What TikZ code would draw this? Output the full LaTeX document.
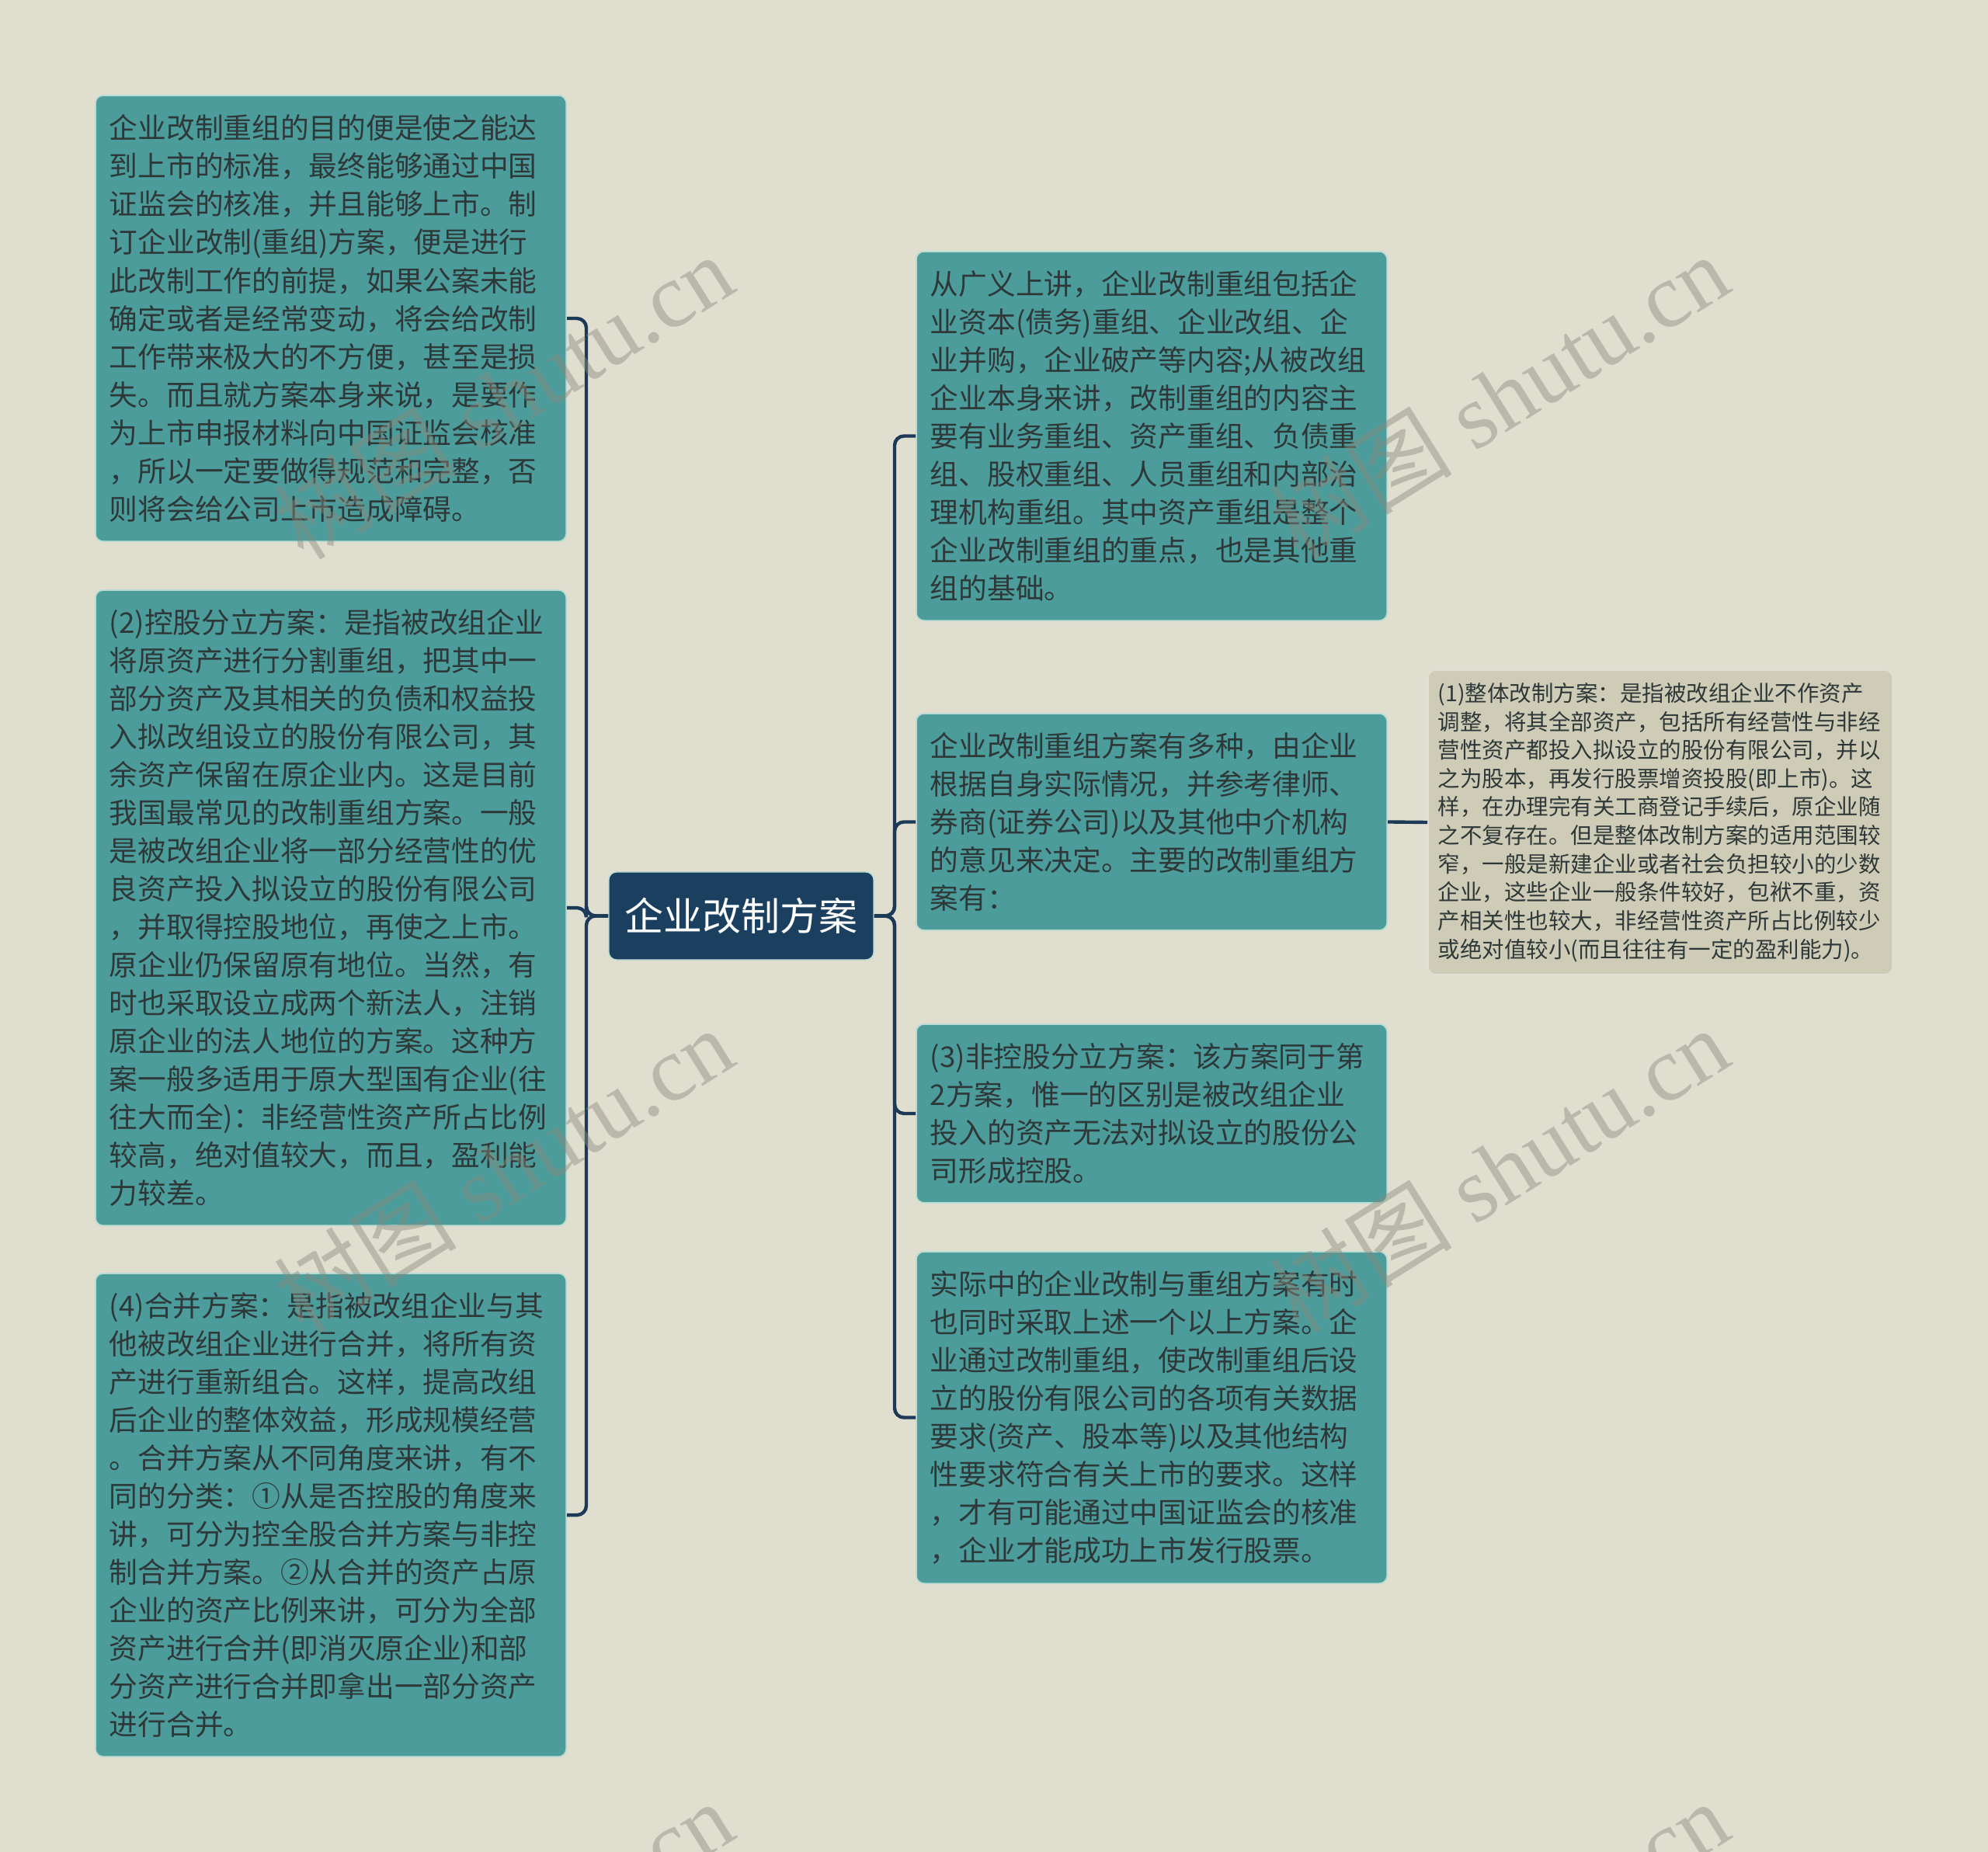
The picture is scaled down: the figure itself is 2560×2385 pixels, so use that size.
\documentclass[tikz,border=0pt]{standalone}
\usepackage{fontspec}
\newfontfamily\cjk{Noto Sans CJK SC}
\newfontfamily\wmserif{Liberation Serif}
\definecolor{bgc}{HTML}{E0DECF}
\definecolor{tealc}{HTML}{4C9C9B}
\definecolor{tealedge}{HTML}{B8DCD2}
\definecolor{centc}{HTML}{1B3F5F}
\definecolor{linec}{HTML}{1C3A57}
\definecolor{txtc}{HTML}{2E3838}
\definecolor{frc}{HTML}{CECCB6}
\definecolor{fredge}{HTML}{E2E0D2}
\definecolor{wmc}{HTML}{8A8A7E}
\tikzset{
  tbox/.style={fill=tealc, draw=tealedge, line width=0.5pt, rounded corners=0.1cm,
    anchor=north west, align=left, text=txtc,
    font=\cjk\fontsize{10.44pt}{13.94pt}\selectfont,
    text width=5.70cm, inner xsep=0.18cm, inner ysep=0pt},
  frbox/.style={fill=frc, draw=fredge, line width=0.5pt, rounded corners=0.1cm,
    anchor=north west, align=left, text=txtc,
    font=\cjk\fontsize{8.1pt}{10.41pt}\selectfont,
    text width=5.72cm, inner xsep=0.13cm, inner ysep=0pt},
  centre/.style={fill=centc, draw=tealedge, line width=0.4pt, rounded corners=0.1cm,
    text=white, font=\cjk\fontsize{14.2pt}{17pt}\selectfont,
    minimum width=3.41cm, minimum height=1.13cm, inner sep=0pt},
  conn/.style={draw=linec, line width=1.25pt, rounded corners=0.12cm},
  wm/.style={text=wmc, opacity=0.45, font=\wmserif\fontsize{33.5pt}{33.5pt}\selectfont, rotate=32, inner sep=0pt}
}
\begin{document}
\begin{tikzpicture}[x=0.01cm,y=-0.01cm]
\fill[bgc] (0,0) rectangle (2560,2385);
\useasboundingbox (0,0) rectangle (2560,2385);
\clip (0,0) rectangle (2560,2385);

\node[centre] (C) at (954.5,1179.5) {企业改制方案};

\node[tbox, minimum height=5.74cm] (L1) at (122,122) {企业改制重组的目的便是使之能达\\到上市的标准，最终能够通过中国\\证监会的核准，并且能够上市。制\\订企业改制(重组)方案，便是进行\\此改制工作的前提，如果公案未能\\确定或者是经常变动，将会给改制\\工作带来极大的不方便，甚至是损\\失。而且就方案本身来说，是要作\\为上市申报材料向中国证监会核准\\，所以一定要做得规范和完整，否\\则将会给公司上市造成障碍。};

\node[tbox, minimum height=8.18cm] (L2) at (122,759) {(2)控股分立方案：是指被改组企业\\将原资产进行分割重组，把其中一\\部分资产及其相关的负债和权益投\\入拟改组设立的股份有限公司，其\\余资产保留在原企业内。这是目前\\我国最常见的改制重组方案。一般\\是被改组企业将一部分经营性的优\\良资产投入拟设立的股份有限公司\\，并取得控股地位，再使之上市。\\原企业仍保留原有地位。当然，有\\时也采取设立成两个新法人，注销\\原企业的法人地位的方案。这种方\\案一般多适用于原大型国有企业(往\\往大而全)：非经营性资产所占比例\\较高，绝对值较大，而且，盈利能\\力较差。};

\node[tbox, minimum height=6.22cm] (L3) at (122,1639) {(4)合并方案：是指被改组企业与其\\他被改组企业进行合并，将所有资\\产进行重新组合。这样，提高改组\\后企业的整体效益，形成规模经营\\。合并方案从不同角度来讲，有不\\同的分类：①从是否控股的角度来\\讲，可分为控全股合并方案与非控\\制合并方案。②从合并的资产占原\\企业的资产比例来讲，可分为全部\\资产进行合并(即消灭原企业)和部\\分资产进行合并即拿出一部分资产\\进行合并。};

\node[tbox, minimum height=4.75cm] (R1) at (1179,323) {从广义上讲，企业改制重组包括企\\业资本(债务)重组、企业改组、企\\业并购，企业破产等内容;从被改组\\企业本身来讲，改制重组的内容主\\要有业务重组、资产重组、负债重\\组、股权重组、人员重组和内部治\\理机构重组。其中资产重组是整个\\企业改制重组的重点，也是其他重\\组的基础。};

\node[tbox, minimum height=2.79cm] (R2) at (1179,918) {企业改制重组方案有多种，由企业\\根据自身实际情况，并参考律师、\\券商(证券公司)以及其他中介机构\\的意见来决定。主要的改制重组方\\案有：};

\node[tbox, minimum height=2.30cm] (R3) at (1179,1318) {(3)非控股分立方案：该方案同于第\\2方案，惟一的区别是被改组企业\\投入的资产无法对拟设立的股份公\\司形成控股。};

\node[tbox, minimum height=4.27cm] (R4) at (1179,1611) {实际中的企业改制与重组方案有时\\也同时采取上述一个以上方案。企\\业通过改制重组，使改制重组后设\\立的股份有限公司的各项有关数据\\要求(资产、股本等)以及其他结构\\性要求符合有关上市的要求。这样\\，才有可能通过中国证监会的核准\\，企业才能成功上市发行股票。};

\node[frbox, minimum height=3.92cm] (FR) at (1838,862) {(1)整体改制方案：是指被改组企业不作资产\\调整，将其全部资产，包括所有经营性与非经\\营性资产都投入拟设立的股份有限公司，并以\\之为股本，再发行股票增资投股(即上市)。这\\样，在办理完有关工商登记手续后，原企业随\\之不复存在。但是整体改制方案的适用范围较\\窄，一般是新建企业或者社会负担较小的少数\\企业，这些企业一般条件较好，包袱不重，资\\产相关性也较大，非经营性资产所占比例较少\\或绝对值较小(而且往往有一定的盈利能力)。};

\coordinate (lj) at (755,1179.5);
\coordinate (rj) at (1152,1179.5);
\draw[conn] (C.west) -- (lj) |- (L1.east);
\draw[conn] (C.west) -- (lj) |- (L2.east);
\draw[conn] (C.west) -- (lj) |- (L3.east);
\draw[conn] (C.east) -- (rj) |- (R1.west);
\draw[conn] (C.east) -- (rj) |- (R2.west);
\draw[conn] (C.east) -- (rj) |- (R3.west);
\draw[conn] (C.east) -- (rj) |- (R4.west);
\draw[conn] (R2.east) -- (FR.west);

\node[wm] (w1) at (648,510) {{\cjk 树图} shutu.cn};
\node[wm] (w2) at (1930,510) {{\cjk 树图} shutu.cn};
\node[wm] (w3) at (648,1506) {{\cjk 树图} shutu.cn};
\node[wm] (w4) at (1930,1506) {{\cjk 树图} shutu.cn};
\node[wm] (w5) at (648,2502) {{\cjk 树图} shutu.cn};
\node[wm] (w6) at (1930,2502) {{\cjk 树图} shutu.cn};
\end{tikzpicture}
\end{document}
